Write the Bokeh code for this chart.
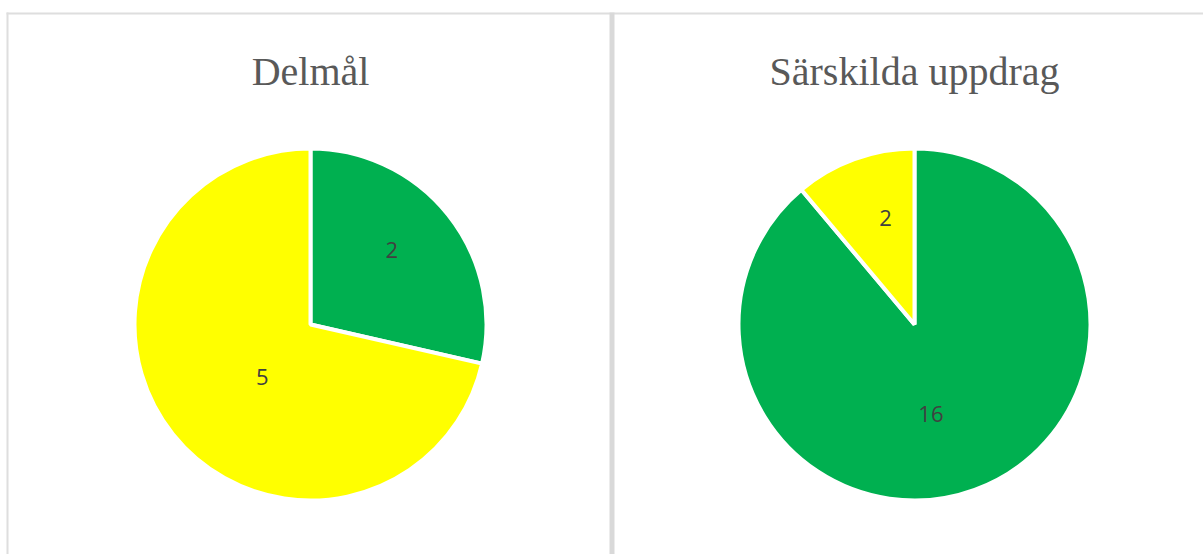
import numpy as np
from bokeh.plotting import figure
from bokeh.models import Range1d, ColumnDataSource
from bokeh.core.properties import value
from bokeh.embed import file_html
from bokeh.resources import INLINE

# ---- data ----
titles = ["Delmål", "Särskilda uppdrag"]
categories = ["Grön", "Gul"]
delmal_values = [2, 5]
sarskilda_values = [16, 2]
colors = ["#00B050", "#FFFF00"]

# ---- layout (pixels) ----
W, H = 1203, 554
centers_x = [310, 914]
center_y_px = 324
radius = 176
# label placement: (radial distance px, angle shift deg from bisector)
label_place = [[(110, -3.8), (71, -8.7)], [(91, 9.6), (110, 4.7)]]

def Y(ypx):
    return H - ypx

p = figure(width=W, height=H, output_backend="svg", toolbar_location=None,
           x_range=Range1d(0, W), y_range=Range1d(0, H), min_border=0)
p.axis.visible = False
p.grid.visible = False
p.outline_line_color = None
p.background_fill_color = "white"
p.border_fill_color = "white"

# panel borders (decoration)
p.quad(left=[6, 6], right=[W, 8], top=[Y(12), Y(12)], bottom=[Y(14), Y(H + 5)],
       fill_color="#dedede", line_color=None)
p.quad(left=[609], right=[614], top=[Y(12)], bottom=[Y(H + 5)],
       fill_color="#d9d9d9", line_color=None)

for i, vals in enumerate([delmal_values, sarskilda_values]):
    vals = np.array(vals, dtype=float)
    frac = vals / vals.sum()
    cum = np.concatenate([[0], np.cumsum(frac)])
    start = np.pi / 2 - cum[:-1] * 2 * np.pi
    end = np.pi / 2 - cum[1:] * 2 * np.pi
    cx, cy = centers_x[i], Y(center_y_px)
    src = ColumnDataSource(dict(start=start, end=end, color=colors,
                                x=[cx] * len(vals), y=[cy] * len(vals)))
    p.wedge(x="x", y="y", radius=radius, start_angle="start", end_angle="end",
            direction="clock", fill_color="color", line_color="white",
            line_width=4, source=src)
    # labels
    mids = (cum[:-1] + cum[1:]) / 2 * 360.0
    lx, ly = [], []
    for j, m in enumerate(mids):
        r, shift = label_place[i][j]
        th = np.deg2rad(m + shift)
        lx.append(cx + r * np.sin(th))
        ly.append(cy + r * np.cos(th))
    p.text(x=lx, y=ly, text=[str(int(v)) for v in vals],
           text_font=value("Open Sans"), text_font_size="22px",
           text_color="#404040", text_align="center", text_baseline="middle")
    # title
    p.text(x=[cx], y=[Y(71)], text=[titles[i]],
           text_font=value("Liberation Serif"), text_font_size="40px",
           text_color="#595959", text_align="center", text_baseline="alphabetic")

open("out.html", "w").write(file_html(p, INLINE))
